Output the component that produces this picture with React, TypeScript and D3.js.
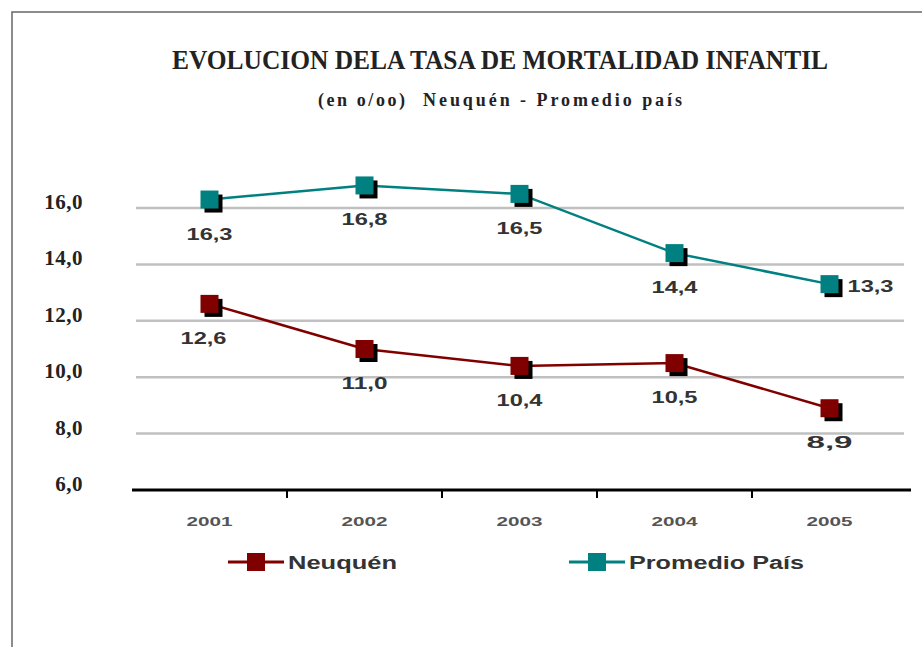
import React from 'react';
import * as d3 from 'd3';

const years = ['2001', '2002', '2003', '2004', '2005'];
const neuquen = [12.6, 11.0, 10.4, 10.5, 8.9];
const promedioPais = [16.3, 16.8, 16.5, 14.4, 13.3];
const yTicks = [6, 8, 10, 12, 14, 16];
const seriesNames = ['Neuquén', 'Promedio País'];

const W = 922;
const H = 647;
const serif = '"Liberation Serif", "Times New Roman", serif';
const sans = '"Liberation Sans", Arial, sans-serif';

const fmt = (v: number) => v.toFixed(1).replace('.', ',');

const App = () => {
  const x = d3.scaleBand().domain(years).range([132, 907]).padding(0);
  const y = d3.scaleLinear().domain([6, 16]).range([490, 208]);
  const cx = (i: number) => (x(years[i]) as number) + x.bandwidth() / 2;

  const line = d3
    .line<number>()
    .x((_, i) => cx(i))
    .y(d => y(d));

  const series = [
    { name: seriesNames[0], values: neuquen, color: '#800000' },
    { name: seriesNames[1], values: promedioPais, color: '#008080' },
  ];

  const m = 18;

  return (
    <svg width={W} height={H} style={{ position: 'absolute', left: 0, top: 0, background: '#fff' }}>
      <rect x={12} y={12} width={W} height={H} fill="#fff" stroke="#666" strokeWidth={1.5} />

      <text x={500} y={69} textAnchor="middle" fontFamily={serif} fontWeight="bold" fontSize={28}
        textLength={656} lengthAdjust="spacingAndGlyphs" fill="#222">
        EVOLUCION DELA TASA DE MORTALIDAD INFANTIL
      </text>
      <text x={318} y={106} fontFamily={serif} fontWeight="bold" fontSize={18}
        textLength={87} lengthAdjust="spacing" fill="#222">
        (en o/oo)
      </text>
      <text x={423} y={106} fontFamily={serif} fontWeight="bold" fontSize={18}
        textLength={259} lengthAdjust="spacing" fill="#222">
        Neuquén - Promedio país
      </text>

      {/* grid */}
      {yTicks.filter(t => t > 6).map(t => (
        <line key={t} x1={136} x2={904} y1={y(t)} y2={y(t)} stroke="#c0c0c0" strokeWidth={2.5} />
      ))}
      {yTicks.map(t => (
        <text key={'l' + t} x={83} y={y(t) + 1} textAnchor="end" fontFamily={serif} fontWeight="bold"
          fontSize={21} letterSpacing={0.5} fill="#222">
          {fmt(t)}
        </text>
      ))}

      {/* x axis */}
      <line x1={132} x2={911} y1={490} y2={490} stroke="#000" strokeWidth={3} />
      {years.slice(1).map(yr => (
        <line key={yr} x1={x(yr)} x2={x(yr)} y1={490} y2={498} stroke="#000" strokeWidth={2} />
      ))}
      {years.map((yr, i) => (
        <text key={'y' + yr} x={cx(i)} y={526} textAnchor="middle" fontFamily={sans} fontWeight="bold"
          fontSize={12} textLength={46} lengthAdjust="spacingAndGlyphs" fill="#555">
          {yr}
        </text>
      ))}

      {series.map(s => (
        <g key={s.name}>
          <path d={line(s.values) as string} fill="none" stroke={s.color} strokeWidth={2.5} />
          {s.values.map((v, i) => (
            <g key={i}>
              <rect x={cx(i) - m / 2 + 4} y={y(v) - m / 2 + 4} width={m} height={m} fill="#000" />
              <rect x={cx(i) - m / 2} y={y(v) - m / 2} width={m} height={m} fill={s.color} />
            </g>
          ))}
          {s.values.map((v, i) => {
            const right = s.values === promedioPais && i === s.values.length - 1;
            const shiftLeft = s.values === neuquen && i === 0 ? -6 : 0;
            return (
              <text key={'t' + i} x={right ? cx(i) + 18 : cx(i) + shiftLeft} y={right ? y(v) + 8 : y(v) + 40}
                textAnchor={right ? 'start' : 'middle'} fontFamily={sans} fontWeight="bold" fontSize={17}
                textLength={46} lengthAdjust="spacingAndGlyphs" fill="#333">
                {fmt(v)}
              </text>
            );
          })}
        </g>
      ))}

      {/* legend */}
      {series.map((s, k) => {
        const lx = k === 0 ? 228 : 569;
        const tl = k === 0 ? 109 : 175;
        return (
          <g key={'lg' + k}>
            <line x1={lx} x2={lx + 56} y1={562} y2={562} stroke={s.color} strokeWidth={3} />
            <rect x={lx + 28 - m / 2} y={562 - m / 2} width={m} height={m} fill={s.color} />
            <text x={lx + 60} y={569} fontFamily={sans} fontWeight="bold" fontSize={18}
              textLength={tl} lengthAdjust="spacingAndGlyphs" fill="#333">
              {s.name}
            </text>
          </g>
        );
      })}
    </svg>
  );
};

export default App;
